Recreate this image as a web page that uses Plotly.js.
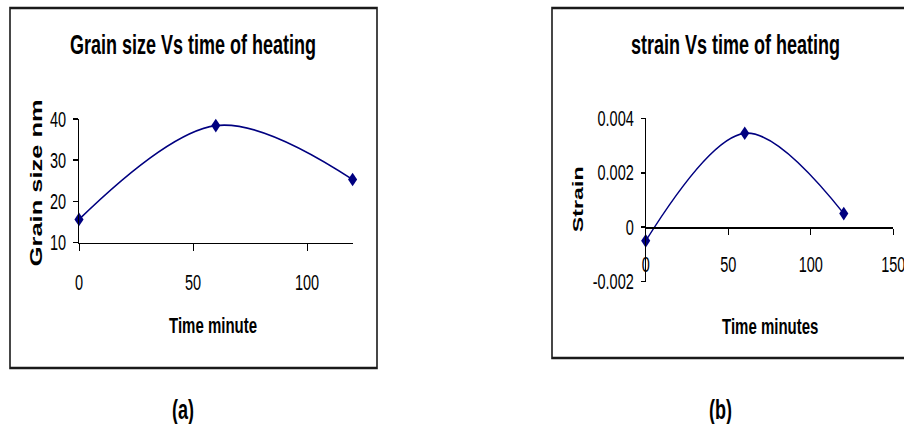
<!DOCTYPE html>
<html>
<head>
<meta charset="utf-8">
<script src="https://cdn.plot.ly/plotly-3.0.1.min.js"></script>
<style>
  html, body { margin: 0; padding: 0; background: #ffffff; width: 904px; height: 424px; overflow: hidden; }
  #wrap { width: 904px; height: 283px; transform-origin: 0 0; }
</style>
</head>
<body>
<div id="wrap"><div id="chart" style="width:904px;height:283px;"></div></div>
<script>
// ---- data ----
const timeA = [0, 60, 120];
const grainSize = [15.6, 38.4, 25.3];
const timeB = [0, 60, 120];
const strain = [-0.0005, 0.00345, 0.0005];

const xTicksA = [0, 50, 100];
const yTicksA = [10, 20, 30, 40];
const xTicksB = [0, 50, 100, 150];
const yTicksB = [-0.002, 0, 0.002, 0.004];
const yTickTextB = ['-0.002', '0', '0.002', '0.004'];

const titleA = 'Grain size Vs time of heating';
const titleB = 'strain Vs time of heating';
const xTitleA = 'Time minute';
const yTitleA = 'Grain size nm';
const xTitleB = 'Time minutes';
const yTitleB = 'Strain';
const panelLabels = ['(a)', '(b)'];

// ---- geometry ----
const W = 904, H = 424, HS = 283;
const S = H / HS;                  // vertical stretch of the original picture
document.getElementById('wrap').style.transform = 'scaleY(' + S + ')';
const px = x => x / W;
const py = y => 1 - y / H;

const FONT = 'Liberation Sans, Arial, Helvetica, sans-serif';
const navy = '#000080';

const yDomB = [py(281.7), py(118.3)];
const yRangeB = [-0.002, 0.004];
const xAxisPosB = yDomB[0] + (0 - yRangeB[0]) / (yRangeB[1] - yRangeB[0]) * (yDomB[1] - yDomB[0]);

const axisCommon = {
  showline: true, linecolor: '#000', linewidth: 1,
  ticks: 'outside', tickcolor: '#000', tickwidth: 1,
  showgrid: false, zeroline: false, fixedrange: true,
  ticklabeloverflow: 'allow',
  tickfont: { family: FONT, size: 14.5, color: '#000' }
};

const traces = [
  {
    x: timeA, y: grainSize, xaxis: 'x', yaxis: 'y',
    type: 'scatter', mode: 'lines+markers',
    line: { shape: 'spline', smoothing: 1, color: navy, width: 1.2 },
    marker: { symbol: 'diamond', size: 7, color: navy },
    cliponaxis: false, hoverinfo: 'skip'
  },
  {
    x: timeB, y: strain, xaxis: 'x2', yaxis: 'y2',
    type: 'scatter', mode: 'lines+markers',
    line: { shape: 'spline', smoothing: 1, color: navy, width: 1.2 },
    marker: { symbol: 'diamond', size: 7, color: navy },
    cliponaxis: false, hoverinfo: 'skip'
  }
];

const ann = (text, x, y, size, rot) => ({
  text: text, xref: 'paper', yref: 'paper', x: px(x), y: py(y),
  xanchor: 'center', yanchor: 'middle', showarrow: false, textangle: rot || 0,
  font: { family: FONT, size: size, color: '#000', weight: 'bold' }
});

const layout = {
  width: W, height: HS,
  margin: { l: 0, r: 0, t: 0, b: 0, pad: 0 },
  paper_bgcolor: '#fff', plot_bgcolor: 'rgba(0,0,0,0)',
  showlegend: false,
  xaxis: Object.assign({}, axisCommon, {
    domain: [px(79), px(352.6)], range: [0, 120], anchor: 'y',
    tickmode: 'array', tickvals: xTicksA, ticklen: 5, ticklabelstandoff: 8
  }),
  yaxis: Object.assign({}, axisCommon, {
    domain: [py(242.5), py(119)], range: [10, 40], anchor: 'x',
    tickmode: 'array', tickvals: yTicksA, ticklen: 5, ticklabelstandoff: 4
  }),
  xaxis2: Object.assign({}, axisCommon, {
    domain: [px(645.7), px(893.3)], range: [0, 150], anchor: 'free', position: xAxisPosB,
    tickmode: 'array', tickvals: xTicksB, ticklen: 4.5, ticklabelstandoff: 7
  }),
  yaxis2: Object.assign({}, axisCommon, {
    domain: yDomB, range: yRangeB, anchor: 'x2',
    tickmode: 'array', tickvals: yTicksB, ticktext: yTickTextB, ticklen: 4, ticklabelstandoff: 4
  }),
  shapes: [
    { type: 'rect', xref: 'paper', yref: 'paper', x0: px(10), x1: px(377), y0: py(368), y1: py(8),
      line: { color: '#1a1a1a', width: 1.6 }, fillcolor: 'rgba(0,0,0,0)', layer: 'below' },
    { type: 'rect', xref: 'paper', yref: 'paper', x0: px(552), x1: px(910), y0: py(358), y1: py(8),
      line: { color: '#1a1a1a', width: 1.6 }, fillcolor: 'rgba(0,0,0,0)', layer: 'below' }
  ],
  annotations: [
    ann(titleA, 192.5, 45, 18),
    ann(titleB, 735, 45, 18),
    ann(xTitleA, 213, 325, 15),
    ann(xTitleB, 770, 326, 15),
    ann(yTitleA, 36.6, 183, 17, -90),
    ann(yTitleB, 577.5, 200, 15.5, -90),
    ann(panelLabels[0], 183, 410, 18),
    ann(panelLabels[1], 720, 410, 18)
  ]
};

Plotly.newPlot('chart', traces, layout, { staticPlot: true, displayModeBar: false, responsive: false });
</script>
</body>
</html>
